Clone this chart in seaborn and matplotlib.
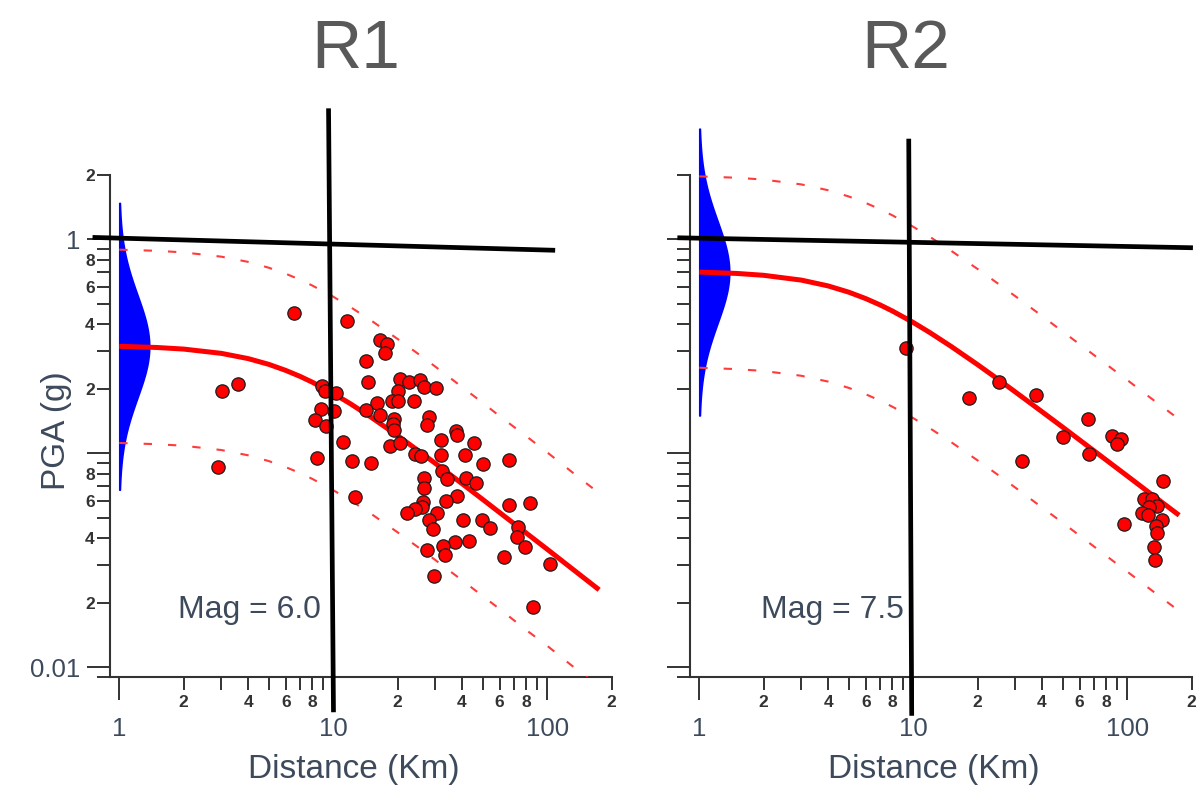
import numpy as np
import pandas as pd
import matplotlib
matplotlib.use("Agg")
import matplotlib.pyplot as plt
from matplotlib.ticker import LogLocator, FuncFormatter
import seaborn as sns

# ---------------------------------------------------------------- data
PANEL_TITLES = ["R1", "R2"]
MAGNITUDES = ["6.0", "7.5"]

# distances (km) at which the attenuation curves are tabulated
DIST_GRID = [1, 1.5, 2, 3, 4, 5, 6, 7, 8, 10, 12, 15, 20, 25, 30, 40,
             50, 60, 80, 100, 130, 175]

# R1 (M 6.0): median PGA and +/- band (g)
R1_MEDIAN = [0.316, 0.312, 0.3067, 0.2929, 0.2769, 0.2602, 0.2438, 0.2286,
             0.2146, 0.1903, 0.1706, 0.1476, 0.1208, 0.1027, 0.0897, 0.0721,
             0.0608, 0.0528, 0.0423, 0.0356, 0.029, 0.023]
R1_UPPER = [0.894, 0.883, 0.868, 0.829, 0.784, 0.736, 0.690, 0.647, 0.607,
            0.539, 0.483, 0.418, 0.342, 0.291, 0.254, 0.204, 0.172, 0.149,
            0.120, 0.101, 0.082, 0.065]
R1_LOWER = [0.1117, 0.1102, 0.1084, 0.1035, 0.0978, 0.0919, 0.0861, 0.0808,
            0.0758, 0.0672, 0.0603, 0.0522, 0.0427, 0.0363, 0.0317, 0.0255,
            0.0215, 0.0187, 0.0149, 0.0126, 0.0102, 0.0081]

# R2 (M 7.5): median PGA and +/- band (g)
R2_MEDIAN = [0.7024, 0.6921, 0.6784, 0.6442, 0.6053, 0.5657, 0.528, 0.4933,
             0.4618, 0.4085, 0.3656, 0.3162, 0.2594, 0.2211, 0.1934, 0.1563,
             0.1323, 0.1153, 0.0928, 0.0784, 0.0642, 0.0513]
R2_UPPER = [1.967, 1.938, 1.900, 1.804, 1.695, 1.584, 1.478, 1.381, 1.293,
            1.144, 1.024, 0.885, 0.726, 0.619, 0.542, 0.438, 0.370, 0.323,
            0.260, 0.220, 0.180, 0.144]
R2_LOWER = [0.2509, 0.2472, 0.2423, 0.2301, 0.2162, 0.2020, 0.1886, 0.1762,
            0.1649, 0.1459, 0.1306, 0.1129, 0.0926, 0.0790, 0.0691, 0.0558,
            0.0473, 0.0412, 0.0331, 0.0280, 0.0229, 0.0183]

# recorded ground motions, R1
R1_OBS_DIST = [2.88, 3.01, 3.57, 6.56, 11.54, 8.86, 9.20, 10.36, 8.77, 10.09,
               8.18, 9.25, 11.11, 8.40, 12.24, 14.94, 12.58, 14.23, 14.47,
               16.46, 17.84, 17.55, 20.63, 22.61, 25.44, 26.57, 30.22, 20.09,
               18.93, 20.19, 23.86, 15.94, 14.16, 16.55, 28.04, 27.59, 19.34,
               19.13, 19.34, 18.52, 20.52, 24.24, 25.72, 31.9, 37.49, 38.1,
               45.74, 31.9, 41.3, 50.1, 66.6, 32.4, 34.0, 41.7, 46.7, 26.57,
               26.57, 37.7, 33.7, 26.28, 26.0, 24.24, 22.17, 30.6, 27.97,
               29.33, 40.4, 49.7, 53.8, 66.6, 83.6, 73.0, 72.4, 79.2, 37.1,
               43.0, 32.6, 33.2, 27.4, 29.5, 62.7, 102.8, 85.8]
R1_OBS_PGA = [0.0860, 0.196, 0.210, 0.451, 0.414, 0.207, 0.195, 0.191, 0.1606,
              0.157, 0.1426, 0.1337, 0.1132, 0.0948, 0.0918, 0.0898, 0.0623,
              0.269, 0.2147, 0.339, 0.323, 0.293, 0.2217, 0.2147, 0.2194,
              0.2034, 0.2012, 0.196, 0.175, 0.176, 0.175, 0.1713, 0.1597,
              0.1513, 0.1481, 0.1351, 0.1442, 0.1366, 0.1281, 0.1084, 0.1120,
              0.0989, 0.0968, 0.115, 0.1267, 0.122, 0.112, 0.0979, 0.0979,
              0.0893, 0.0927, 0.0824, 0.0756, 0.0764, 0.0728, 0.0764, 0.0686,
              0.0633, 0.0598, 0.059, 0.0559, 0.055, 0.0526, 0.0528, 0.0489,
              0.0444, 0.0486, 0.0488, 0.0449, 0.0571, 0.0586, 0.045, 0.0406,
              0.0364, 0.0384, 0.0388, 0.0369, 0.0334, 0.0354, 0.0268, 0.0326,
              0.0305, 0.0192]

# recorded ground motions, R2
R2_OBS_DIST = [9.26, 18.15, 25.23, 37.36, 32.15, 65.3, 50.03, 66.5, 85.4,
               93.5, 90.1, 147.2, 120.0, 130.8, 138.5, 126.6, 117.1, 125.2,
               145.9, 137.0, 138.5, 96.5, 133.3, 134.8]
R2_OBS_PGA = [0.3095, 0.1807, 0.2151, 0.1866, 0.0918, 0.145, 0.119, 0.0995,
              0.1198, 0.116, 0.1108, 0.0738, 0.0608, 0.0613, 0.0565, 0.0562,
              0.0527, 0.0512, 0.0485, 0.0455, 0.0425, 0.0467, 0.0366, 0.0318]

# spread of the log-normal residual (log10 units) drawn at R = 1 km
SIGMA_LOG10 = 0.24
SIGMA_EXTENT = 0.67

# hand-drawn reference lines (distance, PGA) endpoints
R1_HLINE = ([0.75, 109.0], [1.02, 0.888])
R1_VLINE = ([9.51, 10.03], [4.09, 0.00616])
R2_HLINE = ([0.79, 203.0], [1.016, 0.9125])
R2_VLINE = ([9.53, 9.84], [2.95, 0.00593])

# ---------------------------------------------------------------- style
sns.set_theme(style="ticks")
plt.rcParams["font.family"] = ["Liberation Sans", "DejaVu Sans"]

DARK = "#333333"
LABEL_COLOR = "#3d4a5c"
RED = "#ff0000"
DASH_RED = "#ff3b3b"
BLUE = "#0000ff"

Y_MAJOR_TEXT = {0: "1", -2: "0.01"}


def minor_label(v, pos):
    if v <= 0:
        return ""
    d = int(round(v / 10 ** np.floor(np.log10(v) + 1e-9)))
    return str(d) if d in (2, 4, 6, 8) else ""


def x_major_label(v, pos):
    return f"{v:g}"


def y_major_label(v, pos):
    return Y_MAJOR_TEXT.get(int(round(np.log10(v))), "")


fig = plt.figure(figsize=(12.03, 7.92), dpi=100)
ax_w = 502 / 1203
ax_h = 502.4 / 792
ax_b = (792 - 677) / 792
axes = [fig.add_axes([110 / 1203, ax_b, ax_w, ax_h]),
        fig.add_axes([690 / 1203, ax_b, ax_w, ax_h])]

panels = [
    dict(median=R1_MEDIAN, upper=R1_UPPER, lower=R1_LOWER,
         dist=R1_OBS_DIST, pga=R1_OBS_PGA, hline=R1_HLINE, vline=R1_VLINE),
    dict(median=R2_MEDIAN, upper=R2_UPPER, lower=R2_LOWER,
         dist=R2_OBS_DIST, pga=R2_OBS_PGA, hline=R2_HLINE, vline=R2_VLINE),
]

for i, (ax, p) in enumerate(zip(axes, panels)):
    ax.set_xscale("log")
    ax.set_yscale("log")
    ax.set_xlim(0.905, 201)
    ax.set_ylim(0.009, 2.005)
    ax.set_facecolor("white")

    curves = pd.DataFrame({"distance": DIST_GRID, "median": p["median"],
                           "upper": p["upper"], "lower": p["lower"]})
    obs = pd.DataFrame({"distance": p["dist"], "pga": p["pga"]})

    # residual distribution at the left edge
    z = np.linspace(-SIGMA_EXTENT, SIGMA_EXTENT, 300)
    dens = np.exp(-0.5 * (z / SIGMA_LOG10) ** 2)
    y_d = p["median"][0] * 10 ** z
    x_d = 10 ** (0.14 * dens)
    ax.fill_betweenx(y_d, 1.0, x_d, color=BLUE, edgecolor=BLUE, lw=1.2,
                     zorder=2, clip_on=False)

    for col in ("upper", "lower"):
        sns.lineplot(data=curves, x="distance", y=col, ax=ax, color=DASH_RED,
                     lw=1.5, zorder=3, estimator=None, sort=False)
        ax.lines[-1].set_dashes((4, 7.7))

    sns.lineplot(data=curves, x="distance", y="median", ax=ax, color=RED,
                 lw=3.6, zorder=4, estimator=None, sort=False,
                 solid_capstyle="butt")

    sns.scatterplot(data=obs, x="distance", y="pga", ax=ax, s=92, color=RED,
                    edgecolor="#1c1c1c", linewidth=0.9, zorder=5, legend=False)

    for xs, ys in (p["hline"], p["vline"]):
        ax.plot(xs, ys, color="black", lw=3.4, zorder=7, clip_on=False,
                solid_capstyle="butt")

    ax.text(8.8 if i == 0 else 9.03, 0.0170, f"Mag = {MAGNITUDES[i]}",
            ha="right", va="baseline", fontsize=23, color=LABEL_COLOR,
            zorder=6)

    # axes and ticks
    for axis in (ax.xaxis, ax.yaxis):
        axis.set_major_locator(LogLocator(base=10, numticks=12))
        axis.set_minor_locator(LogLocator(base=10, subs=np.arange(2, 10),
                                          numticks=12))
        axis.set_minor_formatter(FuncFormatter(minor_label))
    ax.xaxis.set_major_formatter(FuncFormatter(x_major_label))
    ax.yaxis.set_major_formatter(FuncFormatter(y_major_label))

    ax.tick_params(axis="both", which="major", direction="out", length=16.5,
                   width=1.4, color=DARK, labelsize=18.5,
                   labelcolor=LABEL_COLOR)
    ax.tick_params(axis="both", which="minor", direction="out", length=9.4,
                   width=1.4, color=DARK, labelsize=12.5, labelcolor=DARK)
    ax.tick_params(axis="x", which="major", pad=12.5)
    ax.tick_params(axis="x", which="minor", pad=3.5)
    ax.tick_params(axis="y", which="major", pad=5)
    ax.tick_params(axis="y", which="minor", pad=1.5)
    if i == 1:
        ax.tick_params(axis="y", which="both", labelleft=False)

    for t in ax.xaxis.get_minor_ticks() + ax.yaxis.get_minor_ticks():
        t.label1.set_fontweight("bold")

    sns.despine(ax=ax)
    for side in ("left", "bottom"):
        ax.spines[side].set_color(DARK)
        ax.spines[side].set_linewidth(1.5)

    ax.set_xlabel("Distance (Km)", fontsize=24, color=LABEL_COLOR)
    ax.xaxis.label.set_va("center")
    ax.xaxis.set_label_coords(0.486, -0.185)
    if i == 0:
        ax.set_ylabel("PGA (g)", fontsize=24, color=LABEL_COLOR)
        ax.yaxis.label.set_va("center")
        ax.yaxis.set_label_coords(-0.106, 0.49)
    else:
        ax.set_ylabel("")

fig.text(356 / 1203, 1 - 68 / 792, PANEL_TITLES[0], ha="center",
         va="baseline", fontsize=50, color="#595959")
fig.text(906 / 1203, 1 - 68 / 792, PANEL_TITLES[1], ha="center",
         va="baseline", fontsize=50, color="#595959")

fig.savefig("out.png", dpi=100, facecolor="white")
